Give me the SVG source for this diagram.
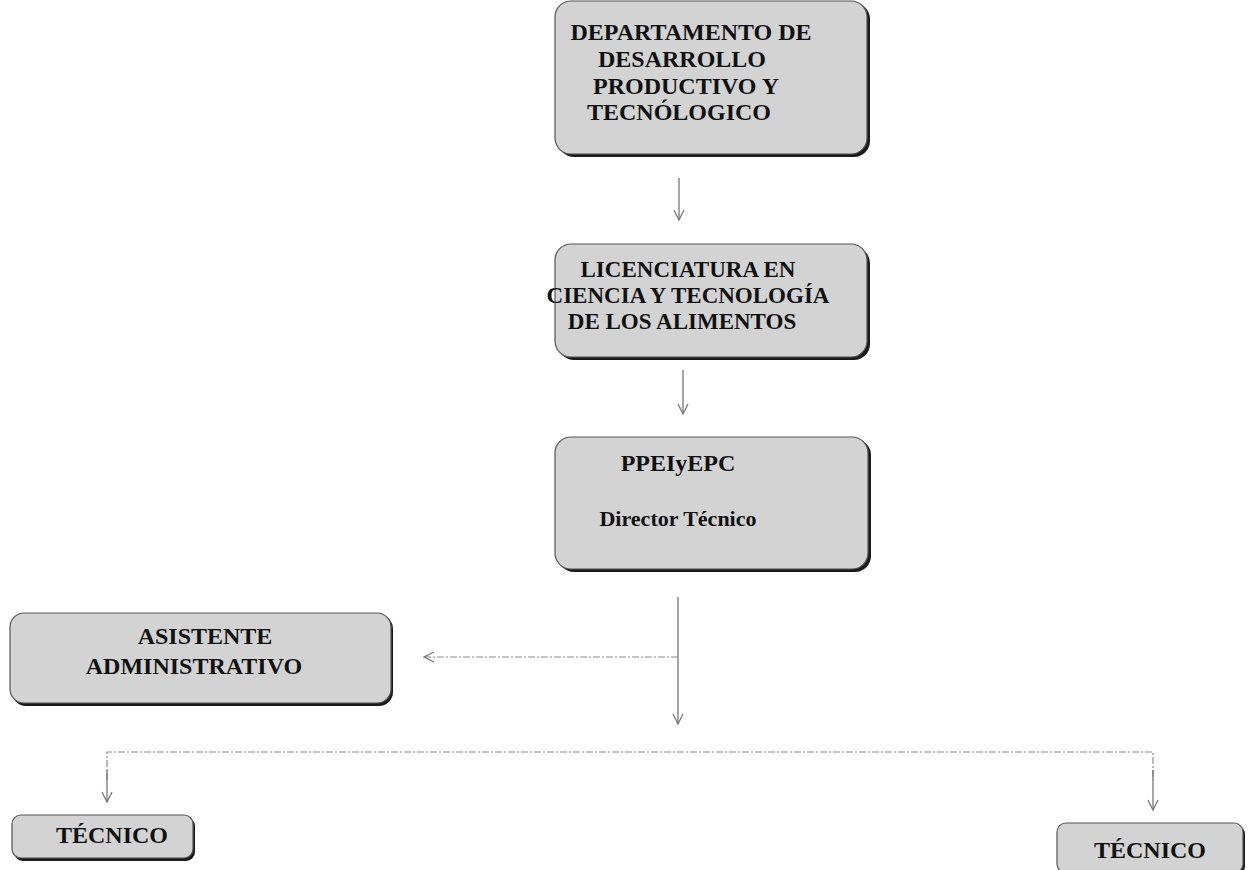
<svg xmlns="http://www.w3.org/2000/svg" width="1249" height="870" viewBox="0 0 1249 870">
<style>
.shadow{fill:#1a1a1a;}
.box{fill:#d3d3d3;stroke:#555;stroke-width:1.2;}
.t{font-family:"Liberation Serif","Times New Roman",serif;font-weight:bold;font-size:24px;fill:#111;text-anchor:middle;}
.m{font-size:23px;}
.s{font-size:22px;}
.ln{fill:none;stroke:#777;stroke-width:1.3;}
.dl{fill:none;stroke:#8a8a8a;stroke-width:1.2;stroke-dasharray:7 2 2 2;}
</style>
<defs>
<marker id="arr" viewBox="0 0 12 12" refX="11" refY="6" markerWidth="12" markerHeight="12" markerUnits="userSpaceOnUse" orient="auto">
<path d="M1,1 L11,6 L1,11" fill="none" stroke="#777" stroke-width="1.3"/>
</marker>
</defs>
<rect width="1249" height="870" fill="#fff"/>
<g id="connectors">
<line class="ln" x1="679" y1="178" x2="679" y2="220" marker-end="url(#arr)"/>
<line class="ln" x1="683" y1="370" x2="683" y2="414" marker-end="url(#arr)"/>
<line class="ln" x1="678" y1="597" x2="678" y2="724" marker-end="url(#arr)"/>
<line class="dl" x1="678" y1="657" x2="424" y2="657" marker-end="url(#arr)"/>
<polyline class="dl" points="107,780 107,752 1153,752 1153,780"/>
<line class="ln" x1="107" y1="770" x2="107" y2="802" marker-end="url(#arr)"/>
<line class="ln" x1="1153" y1="770" x2="1153" y2="810" marker-end="url(#arr)"/>
</g>
<g id="n1">
<rect class="shadow" x="558" y="3" width="312" height="154" rx="16"/>
<rect class="box" x="555" y="1" width="312" height="153" rx="16"/>
<text class="t" x="691" y="40">DEPARTAMENTO DE</text>
<text class="t" x="682" y="67">DESARROLLO</text>
<text class="t" x="686" y="94">PRODUCTIVO Y</text>
<text class="t" x="679" y="120">TECNÓLOGICO</text>
</g>
<g id="n2">
<rect class="shadow" x="558" y="247" width="312" height="113" rx="16"/>
<rect class="box" x="555" y="244" width="312" height="113" rx="16"/>
<text class="t m" x="688" y="277">LICENCIATURA EN</text>
<text class="t m" x="688" y="303">CIENCIA Y TECNOLOGÍA</text>
<text class="t m" x="682" y="329">DE LOS ALIMENTOS</text>
</g>
<g id="n3">
<rect class="shadow" x="558" y="439" width="313" height="133" rx="16"/>
<rect class="box" x="555" y="437" width="313" height="132" rx="16"/>
<text class="t" x="678" y="471">PPEIyEPC</text>
<text class="t s" x="678" y="526">Director Técnico</text>
</g>
<g id="n4">
<rect class="shadow" x="12" y="615" width="381" height="91" rx="14"/>
<rect class="box" x="10" y="613" width="381" height="90" rx="14"/>
<text class="t" x="205" y="644">ASISTENTE</text>
<text class="t" x="194" y="674">ADMINISTRATIVO</text>
</g>
<g id="n5">
<rect class="shadow" x="14" y="817" width="181" height="44" rx="9"/>
<rect class="box" x="12" y="815" width="181" height="43" rx="9"/>
<text class="t" x="112" y="843">TÉCNICO</text>
</g>
<g id="n6">
<rect class="shadow" x="1059" y="825" width="186" height="50" rx="9"/>
<rect class="box" x="1057" y="823" width="186" height="50" rx="9"/>
<text class="t" x="1150" y="858">TÉCNICO</text>
</g>
</svg>
